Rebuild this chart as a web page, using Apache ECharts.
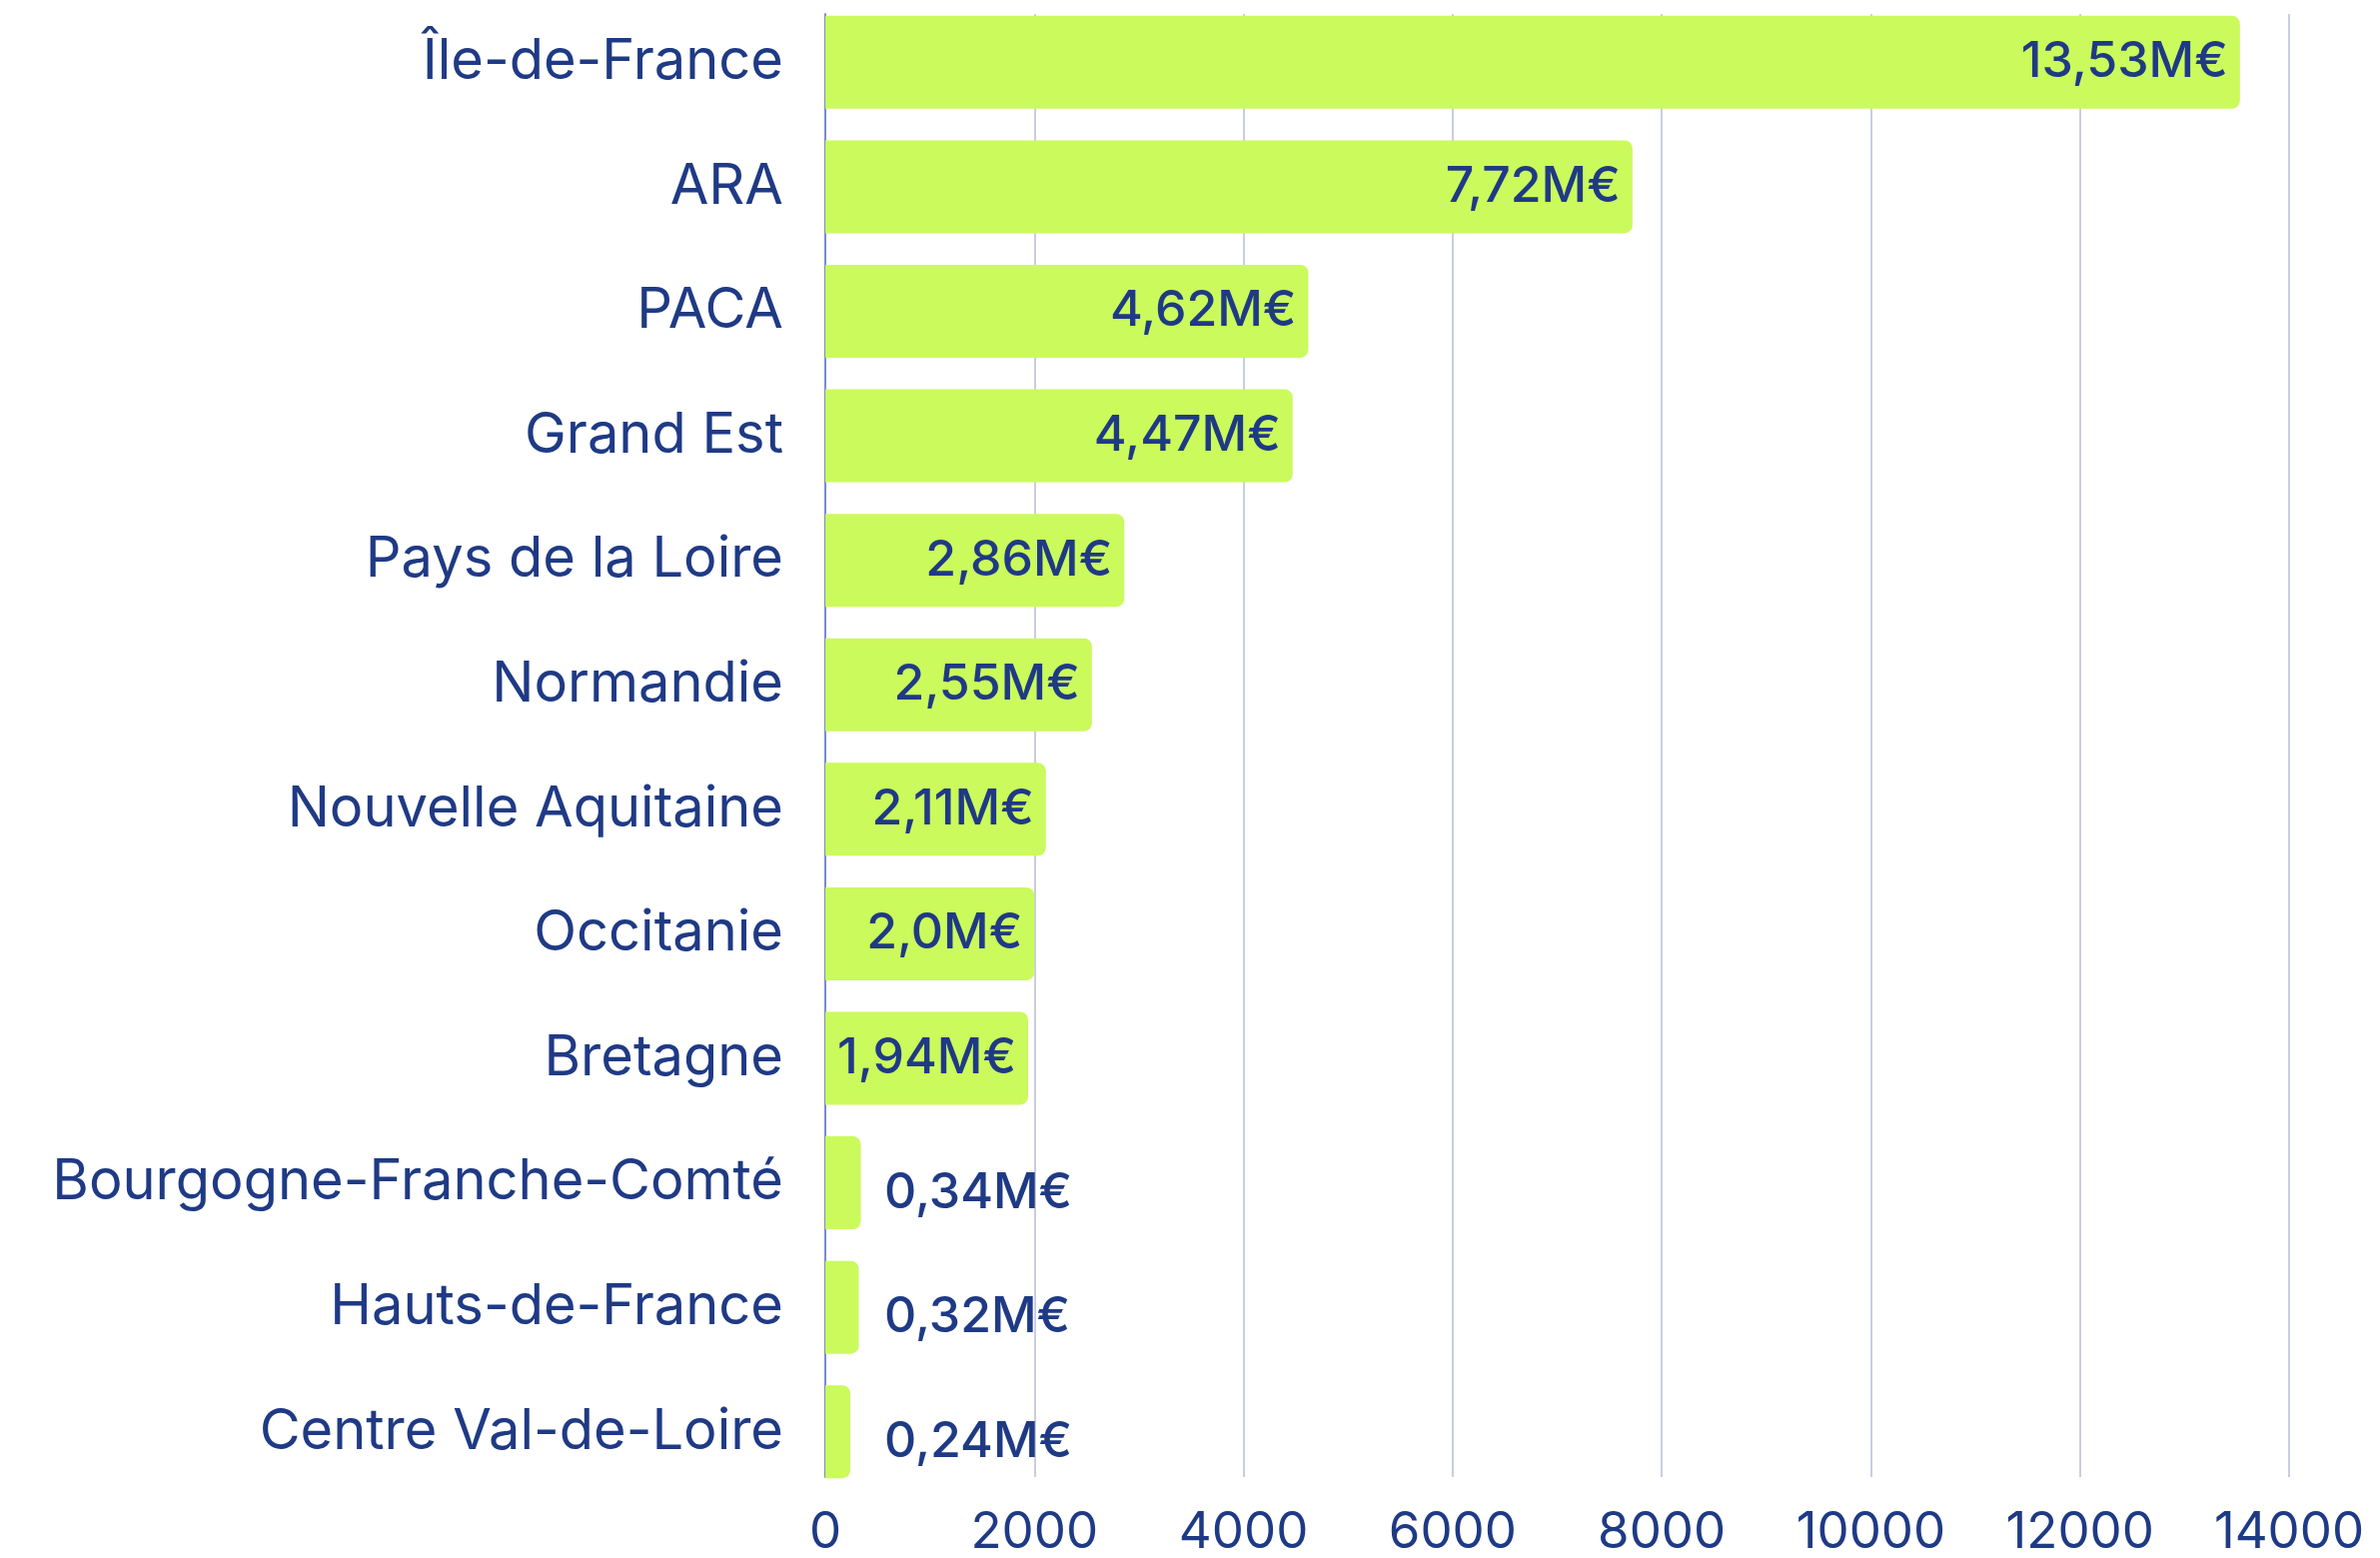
<!DOCTYPE html>
<html>
<head>
<meta charset="utf-8">
<script src="https://cdn.jsdelivr.net/npm/echarts@6/dist/echarts.min.js"></script>
<style>
	html, body { margin: 0; padding: 0; background: #ffffff; }
	#chart { width: 2382px; height: 1559px; }
</style>
</head>
<body>
<div id="chart"></div>
<script>
// Regions, top to bottom
let regions = [
	'Île-de-France',
	'ARA',
	'PACA',
	'Grand Est',
	'Pays de la Loire',
	'Normandie',
	'Nouvelle Aquitaine',
	'Occitanie',
	'Bretagne',
	'Bourgogne-Franche-Comté',
	'Hauts-de-France',
	'Centre Val-de-Loire'
];
// Amounts (k€)
let amounts = [13530, 7720, 4620, 4470, 2860, 2550, 2110, 2000, 1940, 340, 320, 240];
let amountLabels = ['13,53M€', '7,72M€', '4,62M€', '4,47M€', '2,86M€', '2,55M€', '2,11M€', '2,0M€', '1,94M€', '0,34M€', '0,32M€', '0,24M€'];
let xTicks = [0, 14000, 2000]; // min, max, interval

let navy = '#1f3a85';
let lime = '#cbfa5c';
let font = 'Inter';

function barData() {
	let out = [];
	for (let i = 0; i < amounts.length; i++) {
		let item = { value: amounts[i] };
		if (amounts[i] < 1000) {
			// tiny bars: label sits past the bar
			item.label = { position: 'insideLeft', distance: 59, offset: [0, 10] };
		}
		out.push(item);
	}
	return out;
}

let chart = echarts.init(document.getElementById('chart'));
chart.setOption({
	backgroundColor: '#ffffff',
	animation: false,
	textStyle: { fontFamily: font, color: navy },
	grid: [
		{ left: 826, right: 91, top: -2, bottom: 64 },
		{ left: 826, right: 91, top: 14, bottom: 80 }
	],
	xAxis: [
		{ gridIndex: 0, type: 'value', min: xTicks[0], max: xTicks[1], interval: xTicks[2], show: false },
		{
			gridIndex: 1, type: 'value', min: xTicks[0], max: xTicks[1], interval: xTicks[2],
			axisLine: { show: false },
			axisTick: { show: false },
			splitLine: { show: true, lineStyle: { color: '#c9cee0', width: 2 } },
			axisLabel: {
				fontSize: 51, color: navy, fontFamily: font, margin: 30,
				formatter: function (v) { return String(v); }
			}
		}
	],
	yAxis: [
		{
			gridIndex: 0, type: 'category', data: regions, inverse: true,
			axisLine: { show: false },
			axisTick: { show: false },
			axisLabel: { fontSize: 56, color: navy, fontFamily: font, margin: 42 }
		},
		{
			gridIndex: 1, type: 'category', data: regions, inverse: true,
			axisLine: { show: true, lineStyle: { color: '#7b8bc9', width: 2 } },
			axisTick: { show: false },
			axisLabel: { show: false }
		}
	],
	series: [{
		type: 'bar',
		xAxisIndex: 0,
		yAxisIndex: 0,
		data: barData(),
		barWidth: 93,
		itemStyle: { color: lime, borderRadius: [0, 8, 8, 0] },
		label: {
			show: true,
			position: 'insideRight',
			distance: 12,
			fontSize: 50,
			fontWeight: 500,
			fontFamily: font,
			color: navy,
			formatter: function (p) { return amountLabels[p.dataIndex]; }
		}
	}]
});
</script>
</body>
</html>
